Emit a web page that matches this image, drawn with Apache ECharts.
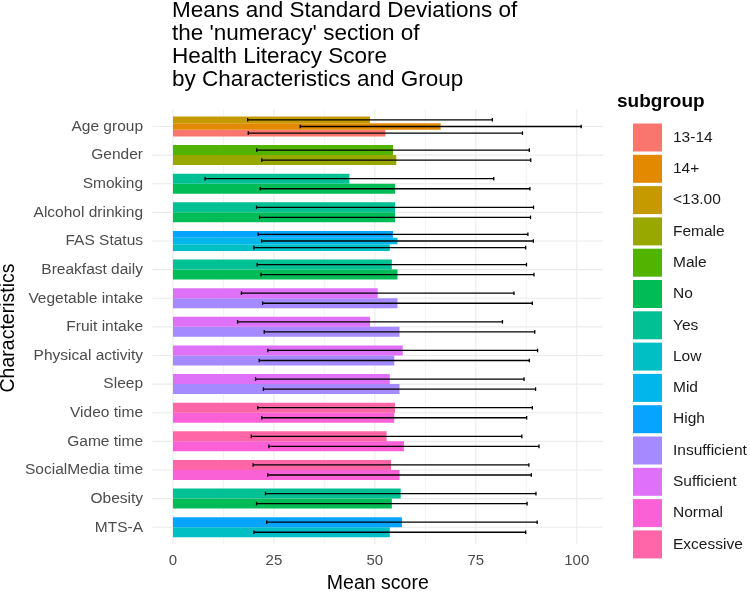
<!DOCTYPE html>
<html>
<head>
<meta charset="utf-8">
<script src="https://cdn.jsdelivr.net/npm/echarts@6/dist/echarts.min.js"></script>
<style>
  html, body { margin: 0; padding: 0; background: #fff; }
  #chart { width: 750px; height: 593px; }
</style>
</head>
<body>
<div id="chart"></div>
<script>
// characteristics, top to bottom
const characteristics = ['Age group', 'Gender', 'Smoking', 'Alcohol drinking', 'FAS Status', 'Breakfast daily',
  'Vegetable intake', 'Fruit intake', 'Physical activity', 'Sleep', 'Video time', 'Game time',
  'SocialMedia time', 'Obesity', 'MTS-A'];

// subgroup levels (legend order)
const subgroups = ['13-14', '14+', '<13.00', 'Female', 'Male', 'No', 'Yes', 'Low', 'Mid', 'High',
  'Insufficient', 'Sufficient', 'Normal', 'Excessive'];
const subgroupColors = ['#F8766D', '#E38900', '#C49A00', '#99A800', '#53B400', '#00BC56', '#00C094',
  '#00BFC4', '#00B6EB', '#06A4FF', '#A58AFF', '#DF70F8', '#FB61D7', '#FF66A8'];

// subgroups present in each characteristic (bottom to top inside the row)
const groups = [
  ['13-14', '14+', '<13.00'], ['Female', 'Male'], ['No', 'Yes'], ['No', 'Yes'], ['Low', 'Mid', 'High'],
  ['No', 'Yes'], ['Insufficient', 'Sufficient'], ['Insufficient', 'Sufficient'], ['Insufficient', 'Sufficient'],
  ['Insufficient', 'Sufficient'], ['Normal', 'Excessive'], ['Normal', 'Excessive'], ['Normal', 'Excessive'],
  ['No', 'Yes'], ['Low', 'High']
];
const means = [
  [52.6, 66.3, 48.8], [55.3, 54.5], [55.0, 43.7], [55.0, 55.0], [53.7, 55.6, 54.5],
  [55.6, 54.2], [55.6, 50.7], [56.1, 48.8], [54.8, 56.9],
  [56.1, 53.7], [54.8, 55.0], [57.2, 52.9], [56.1, 54.0],
  [54.2, 56.4], [53.7, 56.7]
];
const sds = [
  [33.95, 34.8, 30.3], [33.3, 33.75], [33.4, 35.75], [33.55, 34.3], [33.65, 33.65, 33.4],
  [33.8, 33.35], [33.4, 33.75], [33.5, 32.8], [33.45, 33.4],
  [33.7, 33.25], [32.8, 34.0], [33.45, 33.5], [32.65, 34.15],
  [33.5, 33.5], [33.65, 33.5]
];
const xTicks = [0, 25, 50, 75, 100];
const xMinor = [12.5, 37.5, 62.5, 87.5];

const FONT = 'Liberation Sans, Arial, sans-serif';
const nCat = characteristics.length;

// y position: top row = nCat, bottom row = 1
const yPos = i => nCat - i;

function renderItem(params, api) {
  const mean = api.value(0), y = api.value(1), sd = api.value(2);
  const slot = api.value(3), n = api.value(4);
  const unit = Math.abs(api.size([0, 1])[1]);
  const total = 0.7 * unit;
  const h = total / n;
  const base = api.coord([0, y]);
  const cy = base[1] + total / 2 - (slot + 0.5) * h;
  const x1 = api.coord([mean, y])[0];
  const lo = api.coord([mean - sd, y])[0];
  const hi = api.coord([mean + sd, y])[0];
  const cap = 1.8;
  const ls = { stroke: '#000', lineWidth: 1.3 };
  return {
    type: 'group',
    children: [
      { type: 'rect', shape: { x: base[0], y: cy - h / 2, width: x1 - base[0], height: h },
        style: { fill: api.visual('color') } },
      { type: 'line', z2: 10, shape: { x1: lo, y1: cy, x2: hi, y2: cy }, style: ls },
      { type: 'line', z2: 10, shape: { x1: lo, y1: cy - cap, x2: lo, y2: cy + cap }, style: ls },
      { type: 'line', z2: 10, shape: { x1: hi, y1: cy - cap, x2: hi, y2: cy + cap }, style: ls }
    ]
  };
}

const barSeries = subgroups.map((sg, k) => {
  const data = [];
  groups.forEach((g, i) => {
    const slot = g.indexOf(sg);
    if (slot >= 0) data.push([means[i][slot], yPos(i), sds[i][slot], slot, g.length]);
  });
  return {
    name: sg,
    type: 'custom',
    renderItem: renderItem,
    itemStyle: { color: subgroupColors[k] },
    encode: { x: 0, y: 1 },
    data: data,
    z: 5
  };
});

// gridlines: [direction, value, width]  (0 = vertical at x value, 1 = horizontal at y value)
const gridData = [
  ...xTicks.map(v => [0, v, 1.1]),
  ...xMinor.map(v => [0, v, 0.6]),
  ...characteristics.map((c, i) => [1, yPos(i), 1.1])
];
const gridSeries = {
  type: 'custom',
  silent: true,
  z: 1,
  data: gridData,
  encode: { x: -1, y: -1 },
  renderItem: (params, api) => {
    const cs = params.coordSys;
    const dir = api.value(0), v = api.value(1), w = api.value(2);
    let shape;
    if (dir === 0) {
      const x = api.coord([v, 1])[0];
      shape = { x1: x, y1: cs.y, x2: x, y2: cs.y + cs.height };
    } else {
      const y = api.coord([0, v])[1];
      shape = { x1: cs.x, y1: y, x2: cs.x + cs.width, y2: y };
    }
    return { type: 'line', shape: shape, style: { stroke: '#EBEBEB', lineWidth: w } };
  }
};

const chart = echarts.init(document.getElementById('chart'), null, { renderer: 'canvas' });
chart.setOption({
  animation: false,
  backgroundColor: '#fff',
  textStyle: { fontFamily: FONT },
  title: {
    text: "Means and Standard Deviations of\nthe 'numeracy' section of\nHealth Literacy Score\nby Characteristics and Group",
    left: 172, top: -1, padding: 0,
    textStyle: { fontFamily: FONT, fontSize: 22.5, lineHeight: 23, fontWeight: 'normal', color: '#000' }
  },
  legend: {
    orient: 'vertical',
    left: 633, top: 123.5, padding: 0,
    itemWidth: 29, itemHeight: 28, itemGap: 3.3,
    icon: 'rect',
    selectedMode: false,
    data: subgroups,
    textStyle: { fontFamily: FONT, fontSize: 15.5, color: '#1a1a1a', padding: [0, 0, 0, 6] }
  },
  grid: { left: 152.5, right: 147, top: 109.3, bottom: 48.6, containLabel: false },
  xAxis: {
    type: 'value', min: -5.07, max: 106.5,
    axisLine: { show: false }, axisTick: { show: false }, splitLine: { show: false },
    axisLabel: { customValues: xTicks, color: '#4D4D4D', fontSize: 15, margin: 9, fontFamily: FONT }
  },
  yAxis: {
    type: 'value', min: 0.4, max: nCat + 0.6,
    axisLine: { show: false }, axisTick: { show: false }, splitLine: { show: false },
    axisLabel: {
      customValues: characteristics.map((c, i) => yPos(i)),
      formatter: v => characteristics[nCat - Math.round(v)],
      color: '#4D4D4D', fontSize: 15.5, margin: 9.5, fontFamily: FONT
    }
  },
  graphic: [
    { type: 'text', left: 617, top: 92, silent: true,
      style: { text: 'subgroup', fontFamily: FONT, fontSize: 19, fontWeight: 'bold', fill: '#000' } },
    { type: 'text', x: 377.8, y: 584, silent: true,
      style: { text: 'Mean score', fontFamily: FONT, fontSize: 19.5, fill: '#000', align: 'center', verticalAlign: 'middle' } },
    { type: 'text', x: 9, y: 328, rotation: Math.PI / 2, silent: true,
      style: { text: 'Characteristics', fontFamily: FONT, fontSize: 19.5, fill: '#000', align: 'center', verticalAlign: 'middle' } }
  ],
  series: [gridSeries, ...barSeries]
});
</script>
</body>
</html>
